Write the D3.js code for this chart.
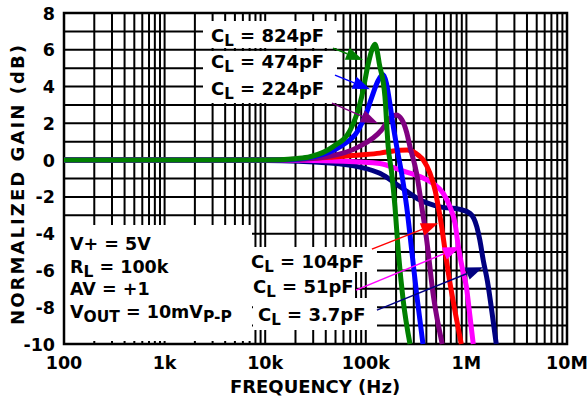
<!DOCTYPE html>
<html>
<head>
<meta charset="utf-8">
<script src="https://cdn.jsdelivr.net/npm/d3@7"></script>
<style>
  body { margin: 0; background: #fff; }
  text { font-family: "DejaVu Sans", Verdana, sans-serif; font-weight: bold; fill: #000; }
</style>
</head>
<body>
<div id="chart"></div>
<script>
// frequency ticks (Hz) and labels
const xTicks = [1e2, 1e3, 1e4, 1e5, 1e6, 1e7]
const xTickLabels = ['100', '1k', '10k', '100k', '1M', '10M']
const yTicks = [-10, -8, -6, -4, -2, 0, 2, 4, 6, 8]

// load capacitance labels
const capLabels = ['824pF', '474pF', '224pF', '104pF', '51pF', '3.7pF']
const colors = ['#008000', '#0000ff', '#800080', '#ff0000', '#ff00ff', '#000080']

// gain curves, [frequency Hz, gain dB]
const cl824 = [[100,0],[1e4,0],[2e4,0.08],[28e3,0.18],[47e3,0.72],[70e3,1.63],[91e3,3.44],[106e3,5.26],[115e3,6.0],[123e3,6.3],[130e3,5.9],[136e3,5.26],[155e3,3.44],[167e3,0.72],[181e3,-0.72],[195e3,-2.54],[210e3,-4.9],[235e3,-7.6],[275e3,-10]]
const cl474 = [[100,0],[1e4,0],[2e4,0.05],[30e3,0.18],[55e3,0.72],[84e3,1.63],[101e3,2.54],[115e3,3.44],[132e3,4.3],[148e3,4.65],[160e3,4.2],[172e3,3.2],[188e3,1.8],[203e3,0.72],[227e3,-0.72],[255e3,-2.54],[286e3,-4.9],[322e3,-7.4],[370e3,-10]]
const cl224 = [[100,0],[1e4,0],[2e4,0.03],[41e3,0.18],[85e3,0.72],[143e3,1.63],[175e3,2.3],[200e3,2.45],[228e3,2.2],[255e3,1.5],[275e3,0.72],[320e3,-0.72],[360e3,-2.54],[403e3,-4.35],[470e3,-7.4],[575e3,-10]]
const cl104 = [[100,0],[1e4,0],[44e3,0.16],[100e3,0.3],[138e3,0.38],[219e3,0.54],[260e3,0.55],[297e3,0.45],[335e3,0.25],[373e3,0],[435e3,-0.72],[488e3,-1.63],[526e3,-2.54],[568e3,-3.63],[613e3,-4.9],[660e3,-6.1],[735e3,-7.6],[890e3,-10]]
const cl51 = [[100,0],[1e4,0],[60e3,-0.06],[138e3,-0.18],[219e3,-0.54],[346e3,-0.9],[468e3,-1.27],[589e3,-1.81],[687e3,-2.54],[771e3,-3.44],[832e3,-4.71],[920e3,-6.0],[1.0e6,-6.9],[1.08e6,-8.4],[1.17e6,-10]]
const cl3p7 = [[100,0],[1e4,-0.02],[44e3,-0.16],[87e3,-0.38],[138e3,-0.72],[219e3,-1.45],[346e3,-2.17],[547e3,-2.54],[864e3,-2.68],[1.09e6,-2.9],[1.27e6,-3.63],[1.36e6,-4.35],[1.47e6,-5.44],[1.62e6,-6.6],[1.84e6,-8.7],[1.98e6,-10]]
const curves = [cl824, cl474, cl224, cl104, cl51, cl3p7]

// arrows from label to curve, [[f, g] tail, [f, g] head]
const arrows = [
  [[47.2e3, 6.09], [93.8e3, 5.44]],
  [[49.4e3, 4.62], [110e3, 3.86]],
  [[46.1e3, 3.1], [132e3, 2.01]],
  [[115e3, -4.84], [522e3, -3.43]],
  [[80e3, -7.07], [864e3, -4.73]],
  [[129e3, -8.16], [1.46e6, -5.82]]
]

const conditions = ['V+ = 5V', 'R|L| = 100k', 'AV = +1', 'V|OUT| = 10mV|P-P']

const W = 587, H = 400
const margin = { top: 13, right: 20, bottom: 56, left: 64 }
const width = W - margin.left - margin.right
const height = H - margin.top - margin.bottom

const svg = d3.select('#chart').append('svg').attr('width', W).attr('height', H)
const g = svg.append('g').attr('transform', `translate(${margin.left},${margin.top})`)

const x = d3.scaleLog().domain([1e2, 1e7]).range([0, width])
const y = d3.scaleLinear().domain([-10, 8]).range([height, 0])

// grid
const minor = []
for (let d = 1e2; d < 1e7; d *= 10) for (let m = 1; m < 10; m++) minor.push(d * m)
minor.push(1e7)
g.append('g').selectAll('line').data(minor).join('line')
  .attr('x1', d => x(d)).attr('x2', d => x(d)).attr('y1', 0).attr('y2', height)
  .attr('stroke', '#000').attr('stroke-width', 2)
g.append('g').selectAll('line').data(d3.range(-10, 9)).join('line')
  .attr('x1', 0).attr('x2', width).attr('y1', d => y(d)).attr('y2', d => y(d))
  .attr('stroke', '#000').attr('stroke-width', 2)

// white label backgrounds (cover grid)
const boxes = [
  [203 - 64, 21 - 13, 134, 27],
  [203 - 64, 51 - 13, 134, 52],
  [64 - 64, 225 - 13, 188, 116],
  [249 - 64, 247 - 13, 128, 25],
  [249 - 64, 272 - 13, 106, 26],
  [253 - 64, 298 - 13, 124, 32]
]
g.append('g').selectAll('rect').data(boxes).join('rect')
  .attr('x', d => d[0]).attr('y', d => d[1]).attr('width', d => d[2]).attr('height', d => d[3])
  .attr('fill', '#fff')

g.append('rect').attr('width', width).attr('height', height)
  .attr('fill', 'none').attr('stroke', '#000').attr('stroke-width', 2.5)

// curves
const line = d3.line().x(d => x(d[0])).y(d => y(d[1])).curve(d3.curveMonotoneX)
const order = [5, 4, 3, 2, 1, 0]
g.append('g').selectAll('path').data(order).join('path')
  .attr('d', i => line(curves[i]))
  .attr('fill', 'none').attr('stroke', i => colors[i]).attr('stroke-width', 5)
  .attr('stroke-linejoin', 'round')

// arrows
arrows.forEach((a, i) => {
  const x0 = x(a[0][0]), y0 = y(a[0][1]), x1 = x(a[1][0]), y1 = y(a[1][1])
  const ang = Math.atan2(y1 - y0, x1 - x0)
  const L = 17, hw = 6.5
  const bx = x1 - L * Math.cos(ang), by = y1 - L * Math.sin(ang)
  g.append('line').attr('x1', x0).attr('y1', y0).attr('x2', bx).attr('y2', by)
    .attr('stroke', colors[i]).attr('stroke-width', 1.5)
  const pts = [[x1, y1], [bx - hw * Math.sin(ang), by + hw * Math.cos(ang)], [bx + hw * Math.sin(ang), by - hw * Math.cos(ang)]]
  g.append('polygon').attr('points', pts.map(p => p.join(',')).join(' ')).attr('fill', colors[i])
})

// label text with subscripts marked as |sub|
function richText (sel, str, subSize) {
  str.split('|').forEach((part, k) => {
    const t = sel.append('tspan').text(part)
    if (k % 2 === 1) t.attr('font-size', subSize).attr('dy', 4)
    else if (k > 0) t.attr('dy', -4)
  })
}

const capPos = [[211, 42], [211, 68], [211, 95], [251, 268], [253, 293], [258, 321]]
capLabels.forEach((c, i) => {
  const t = svg.append('text').attr('x', capPos[i][0]).attr('y', capPos[i][1]).attr('font-size', 18)
  richText(t, 'C|L| = ' + c, 15)
})

conditions.forEach((c, i) => {
  const t = svg.append('text').attr('x', 70).attr('y', 250 + i * 22.7).attr('font-size', 17.5)
  richText(t, c, 15.5)
})

// axes labels
svg.append('g').selectAll('text').data(yTicks).join('text')
  .attr('x', 55).attr('y', d => margin.top + y(d) + 6.5)
  .attr('text-anchor', 'end').attr('font-size', 17.5).text(d => d)

svg.append('g').selectAll('text').data(xTicks).join('text')
  .attr('x', d => margin.left + x(d)).attr('y', 369)
  .attr('text-anchor', 'middle').attr('font-size', 17.5).text((d, i) => xTickLabels[i])

svg.append('text').attr('x', 315).attr('y', 393).attr('text-anchor', 'middle')
  .attr('font-size', 18).text('FREQUENCY (Hz)')

svg.append('text').attr('transform', 'translate(24,185) rotate(-90)').attr('text-anchor', 'middle')
  .attr('font-size', 18).attr('textLength', 280).attr('lengthAdjust', 'spacing')
  .text('NORMALIZED GAIN (dB)')
</script>
</body>
</html>
